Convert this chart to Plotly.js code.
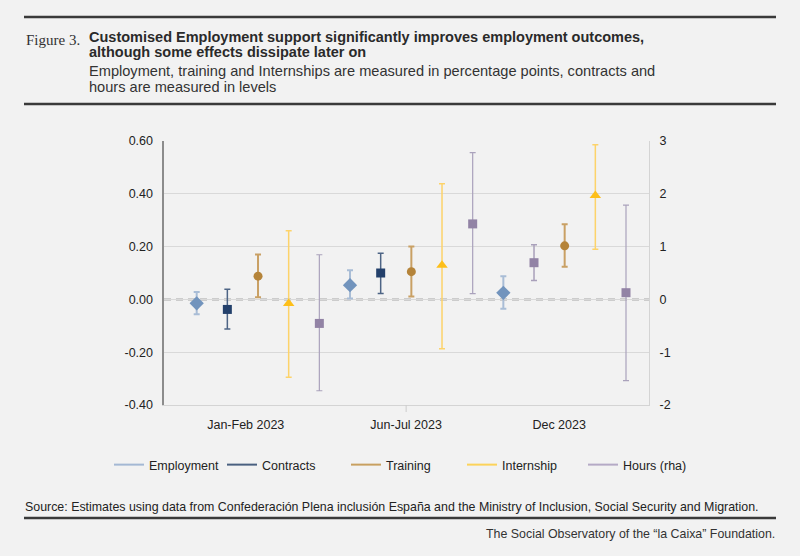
<!DOCTYPE html>
<html>
<head>
<meta charset="utf-8">
<script src="https://cdn.plot.ly/plotly-3.0.1.min.js"></script>
<style>
  html, body { margin: 0; padding: 0; background: #f2f2f2; }
  #chart { width: 800px; height: 556px; }
</style>
</head>
<body>
<div id="chart"></div>
<script>
// periods and series
var categories = ['Jan-Feb 2023', 'Jun-Jul 2023', 'Dec 2023'];
var seriesNames = ['Employment', 'Contracts', 'Training', 'Internship', 'Hours (rha)'];

// point estimates and confidence bounds
var employment     = [-0.015, 0.054, 0.025];
var employmentLow  = [-0.056, 0.003, -0.035];
var employmentHigh = [0.028, 0.110, 0.088];

var contracts     = [-0.038, 0.100, 0.139];
var contractsLow  = [-0.112, 0.022, 0.072];
var contractsHigh = [0.038, 0.175, 0.207];

var training     = [0.088, 0.105, 0.203];
var trainingLow  = [0.008, 0.011, 0.124];
var trainingHigh = [0.170, 0.200, 0.285];

var internship     = [-0.016, 0.129, 0.394];
var internshipLow  = [-0.295, -0.187, 0.190];
var internshipHigh = [0.260, 0.438, 0.586];

var hours     = [-0.455, 1.43, 0.127];
var hoursLow  = [-1.73, 0.11, -1.54];
var hoursHigh = [0.846, 2.78, 1.786];

var leftTicks  = [0.6, 0.4, 0.2, 0, -0.2, -0.4];
var rightTicks = [3, 2, 1, 0, -1, -2];

// pixel -> paper helpers (plot area is 164..649 x 141..405)
function px(x) { return (x - 164) / 485; }
function py(y) { return (405 - y) / 264; }

var FONT = 'Liberation Sans, Arial, sans-serif';

function makeTrace(name, est, lo, hi, slot, idx, st, axis) {
    var xs = [], ys = [], up = [], dn = [];
    idx.forEach(function(i) {
        xs.push(i * 5 + slot);
        ys.push(est[i]);
        up.push(hi[i] - est[i]);
        dn.push(est[i] - lo[i]);
    });
    return {
        x: xs, y: ys, name: name, type: 'scatter', mode: 'markers',
        yaxis: axis, showlegend: false, hoverinfo: 'y',
        marker: { symbol: st.symbol, size: st.size, color: st.color },
        error_y: { type: 'data', symmetric: false, array: up, arrayminus: dn,
                   color: st.err, thickness: st.thick, width: 3 }
    };
}

var styles = {
    emp:  { symbol: 'diamond', size: 11, color: '#7294bd', err: '#a9bdd6', thick: 2 },
    con:  { symbol: 'square', size: 9, color: '#23406b', err: '#4d6485', thick: 1.5 },
    conX: { symbol: 'square', size: 9, color: '#9283a5', err: '#a9a0ba', thick: 1.5 },
    tra:  { symbol: 'circle', size: 9, color: '#b5843a', err: '#c9a064', thick: 2 },
    int:  { symbol: 'triangle-up', size: 10, color: '#fdbf1a', err: '#fdd36a', thick: 1.5 },
    hrs:  { symbol: 'square', size: 9, color: '#9283a5', err: '#aaa2bc', thick: 1.2 }
};

var data = [
    makeTrace(seriesNames[0], employment, employmentLow, employmentHigh, 0, [0, 1, 2], styles.emp, 'y'),
    makeTrace(seriesNames[1], contracts, contractsLow, contractsHigh, 1, [0, 1], styles.con, 'y'),
    makeTrace(seriesNames[1], contracts, contractsLow, contractsHigh, 1, [2], styles.conX, 'y'),
    makeTrace(seriesNames[2], training, trainingLow, trainingHigh, 2, [0, 1, 2], styles.tra, 'y'),
    makeTrace(seriesNames[3], internship, internshipLow, internshipHigh, 3, [0, 1, 2], styles.int, 'y'),
    makeTrace(seriesNames[4], hours, hoursLow, hoursHigh, 4, [0, 1, 2], styles.hrs, 'y2')
];

// legend-only line entries, one small legend per series so they sit in one row
var legendColors = ['#a4b8d4', '#4a6080', '#c8a060', '#fcd35a', '#b5aac6'];
var legendLeft = [109, 222, 346, 462, 583];
var layoutLegends = {};
seriesNames.forEach(function(n, i) {
    var key = i === 0 ? 'legend' : 'legend' + (i + 1);
    data.push({ x: [null], y: [null], name: n, type: 'scatter', mode: 'lines', legend: key,
                line: { color: legendColors[i], width: 2 }, hoverinfo: 'skip' });
    layoutLegends[key] = {
        xref: 'paper', yref: 'paper', x: px(legendLeft[i]), xanchor: 'left',
        y: py(465), yanchor: 'middle', itemwidth: 30,
        font: { family: FONT, size: 12.5, color: '#222' }, bgcolor: 'rgba(0,0,0,0)'
    };
});

var labelPos = [1.6, 6.83, 11.82];

var annotations = [
    { text: 'Figure 3.', x: px(24), y: py(40), font: { family: 'Liberation Serif, serif', size: 15, color: '#333' } },
    { text: '<b>Customised Employment support significantly improves employment outcomes,</b>', x: px(87), y: py(37),
      font: { family: FONT, size: 14.5, color: '#2a2a2a' } },
    { text: '<b>although some effects dissipate later on</b>', x: px(87), y: py(52),
      font: { family: FONT, size: 14.5, color: '#2a2a2a' } },
    { text: 'Employment, training and Internships are measured in percentage points, contracts and', x: px(87), y: py(71),
      font: { family: FONT, size: 14.6, color: '#333' } },
    { text: 'hours are measured in levels', x: px(87), y: py(87),
      font: { family: FONT, size: 14.6, color: '#333' } },
    { text: 'Source: Estimates using data from Confederación Plena inclusión España and the Ministry of Inclusion, Social Security and Migration.',
      x: px(23), y: py(507), font: { family: FONT, size: 12.4, color: '#222' } },
    { text: 'The Social Observatory of the “la Caixa” Foundation.', x: px(777), y: py(534), xanchor: 'right',
      font: { family: FONT, size: 12.4, color: '#333' } }
].map(function(a) {
    return Object.assign({ xref: 'paper', yref: 'paper', xanchor: 'left', yanchor: 'middle', showarrow: false }, a);
});

var shapes = [
    { type: 'line', xref: 'paper', yref: 'paper', x0: px(24), x1: px(776), y0: py(17), y1: py(17), line: { color: '#3a3a3a', width: 2.5 } },
    { type: 'line', xref: 'paper', yref: 'paper', x0: px(24), x1: px(776), y0: py(104), y1: py(104), line: { color: '#3a3a3a', width: 2.5 } },
    { type: 'line', xref: 'paper', yref: 'paper', x0: px(24), x1: px(776), y0: py(518), y1: py(518), line: { color: '#3a3a3a', width: 2.5 } },
    { type: 'line', xref: 'paper', yref: 'y', x0: 0, x1: 1, y0: 0, y1: 0, layer: 'between', line: { color: '#f2f2f2', width: 3 } },
    { type: 'line', xref: 'paper', yref: 'y', x0: 0, x1: 1, y0: 0, y1: 0, layer: 'between', line: { color: '#a6a6a6', width: 2, dash: '7px,5px' } },
    { type: 'line', xref: 'x', yref: 'paper', x0: labelPos[1], x1: labelPos[1], y0: 0, y1: py(412), line: { color: '#cccccc', width: 1 } }
];

var layout = Object.assign({
    width: 800, height: 556,
    margin: { l: 164, r: 151, t: 141, b: 151, autoexpand: false },
    paper_bgcolor: '#f2f2f2', plot_bgcolor: '#f2f2f2',
    font: { family: FONT, size: 12, color: '#222' },
    showlegend: true,
    xaxis: { range: [-1.066, 14.75], tickvals: labelPos, ticktext: categories, ticks: '',
             showgrid: false, zeroline: false, showline: true, linecolor: '#d4d4d4', linewidth: 1,
             tickfont: { family: FONT, size: 12.5, color: '#222' }, ticklabelstandoff: 8 },
    yaxis: { range: [-0.4, 0.6], tickvals: leftTicks,
             ticktext: leftTicks.map(function(v) { return v.toFixed(2); }), ticks: '',
             gridcolor: '#d9d9d9', zeroline: false, showline: true, linecolor: '#8c8c8c', linewidth: 2.5,
             tickfont: { family: FONT, size: 12.5, color: '#222' }, ticklabelstandoff: 6 },
    yaxis2: { range: [-2, 3], tickvals: rightTicks,
              ticktext: rightTicks.map(function(v) { return String(v); }),
              overlaying: 'y', side: 'right', ticks: '',
              showgrid: false, zeroline: false, showline: true, linecolor: '#d4d4d4', linewidth: 1,
              tickfont: { family: FONT, size: 12.5, color: '#222' }, ticklabelstandoff: 7 },
    annotations: annotations,
    shapes: shapes
}, layoutLegends);

Plotly.newPlot('chart', data, layout, { displayModeBar: false, staticPlot: true });
</script>
</body>
</html>
